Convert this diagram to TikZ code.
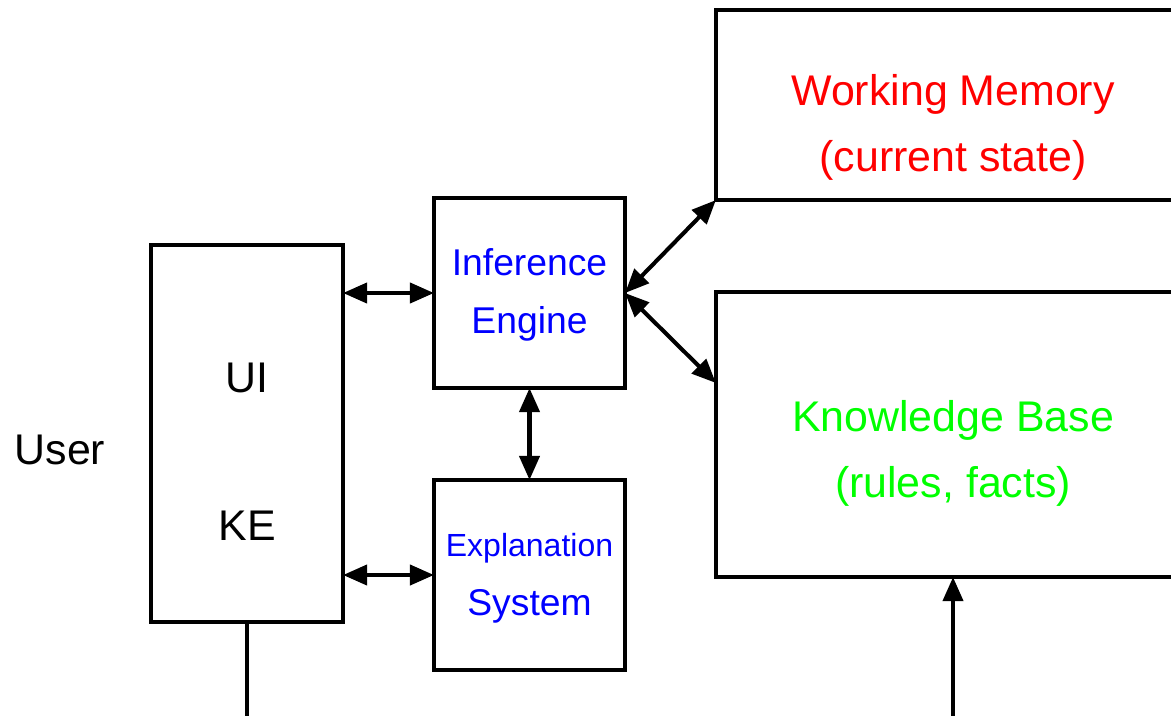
\documentclass[tikz,border=0pt]{standalone}
\usepackage{fontspec}
\setmainfont{Liberation Sans}
\usepackage{xcolor}
\definecolor{wmred}{RGB}{255,0,0}
\definecolor{kbgreen}{RGB}{0,255,0}
\definecolor{ieblue}{RGB}{0,0,255}
\usepackage{tikz}
\usetikzlibrary{positioning}
\usetikzlibrary{arrows.meta}
\usetikzlibrary{calc}
\tikzset{block/.style={rectangle,draw,line width=1.15pt,inner sep=0pt,outer sep=0pt},
         label text/.style={align=center,inner sep=0pt,font=\fontsize{12.2}{18.8}\selectfont},}

\begin{document}
\begin{tikzpicture}[x=0.01cm, y=-0.01cm, line width=1.15pt, >={Triangle[length=2.4mm,width=2mm]}]
	    \clip (0,0) rectangle (1171,715);
		\node[block, minimum width=1.92cm, minimum height=3.77cm] (ui) at (247,433.5) {};
	    \node[block, minimum width=1.91cm, minimum height=1.90cm] (ie) at (529.5,293) {};
	    \node[block, minimum width=1.91cm, minimum height=1.90cm] (es) at (529.5,575) {};
	    \node[block, minimum width=4.74cm, minimum height=1.90cm] (wm) at (953,105) {};
	    \node[block, minimum width=4.74cm, minimum height=2.85cm] (kb) at (953,434.5) {};
	
	    % labels
	    \node[label text] (user) at (60,450) {User};
	    \node[label text] (uitext) at (247,378) {UI};
	    \node[label text] (ketext) at (247,526) {KE};
	    \node[label text, text=ieblue, font=\fontsize{10.6}{16.6}\selectfont] (ietext) at (529.5,295) {Inference\\Engine};
	    \node[label text, text=ieblue, font=\fontsize{9.1}{12}\selectfont] (estext) at (529.5,548) {Explanation};
	    \node[label text, text=ieblue, font=\fontsize{10.6}{16}\selectfont] (estext2) at (529.5,606) {System};
	    \node[label text, text=wmred] (wmtext) at (953,127) {Working Memory\\(current state)};
	    \node[label text, text=kbgreen] (kbtext) at (953,453) {Knowledge Base\\(rules, facts)};
	
	    \coordinate (kbin) at ([yshift=-0.91cm]kb.north west);
	    \coordinate (uiout) at (ui.south |- 0,730);
	    \coordinate (kbfeed) at (kb.south |- 0,730);
	
	    \draw[<->] (ui.east |- ie.west) -- (ie.west);
	    \draw[<->] (ui.east |- es.west) -- (es.west);
	    \draw[<->] (ie.south) -- (es.north);
	    \draw[<->] (ie.east) -- (wm.south west);
	    \draw[<->] (ie.east) -- (kbin);
	    \draw (ui.south) -- (uiout);
	    \draw[->] (kbfeed) -- (kb.south);
	\end{tikzpicture}
\end{document}
